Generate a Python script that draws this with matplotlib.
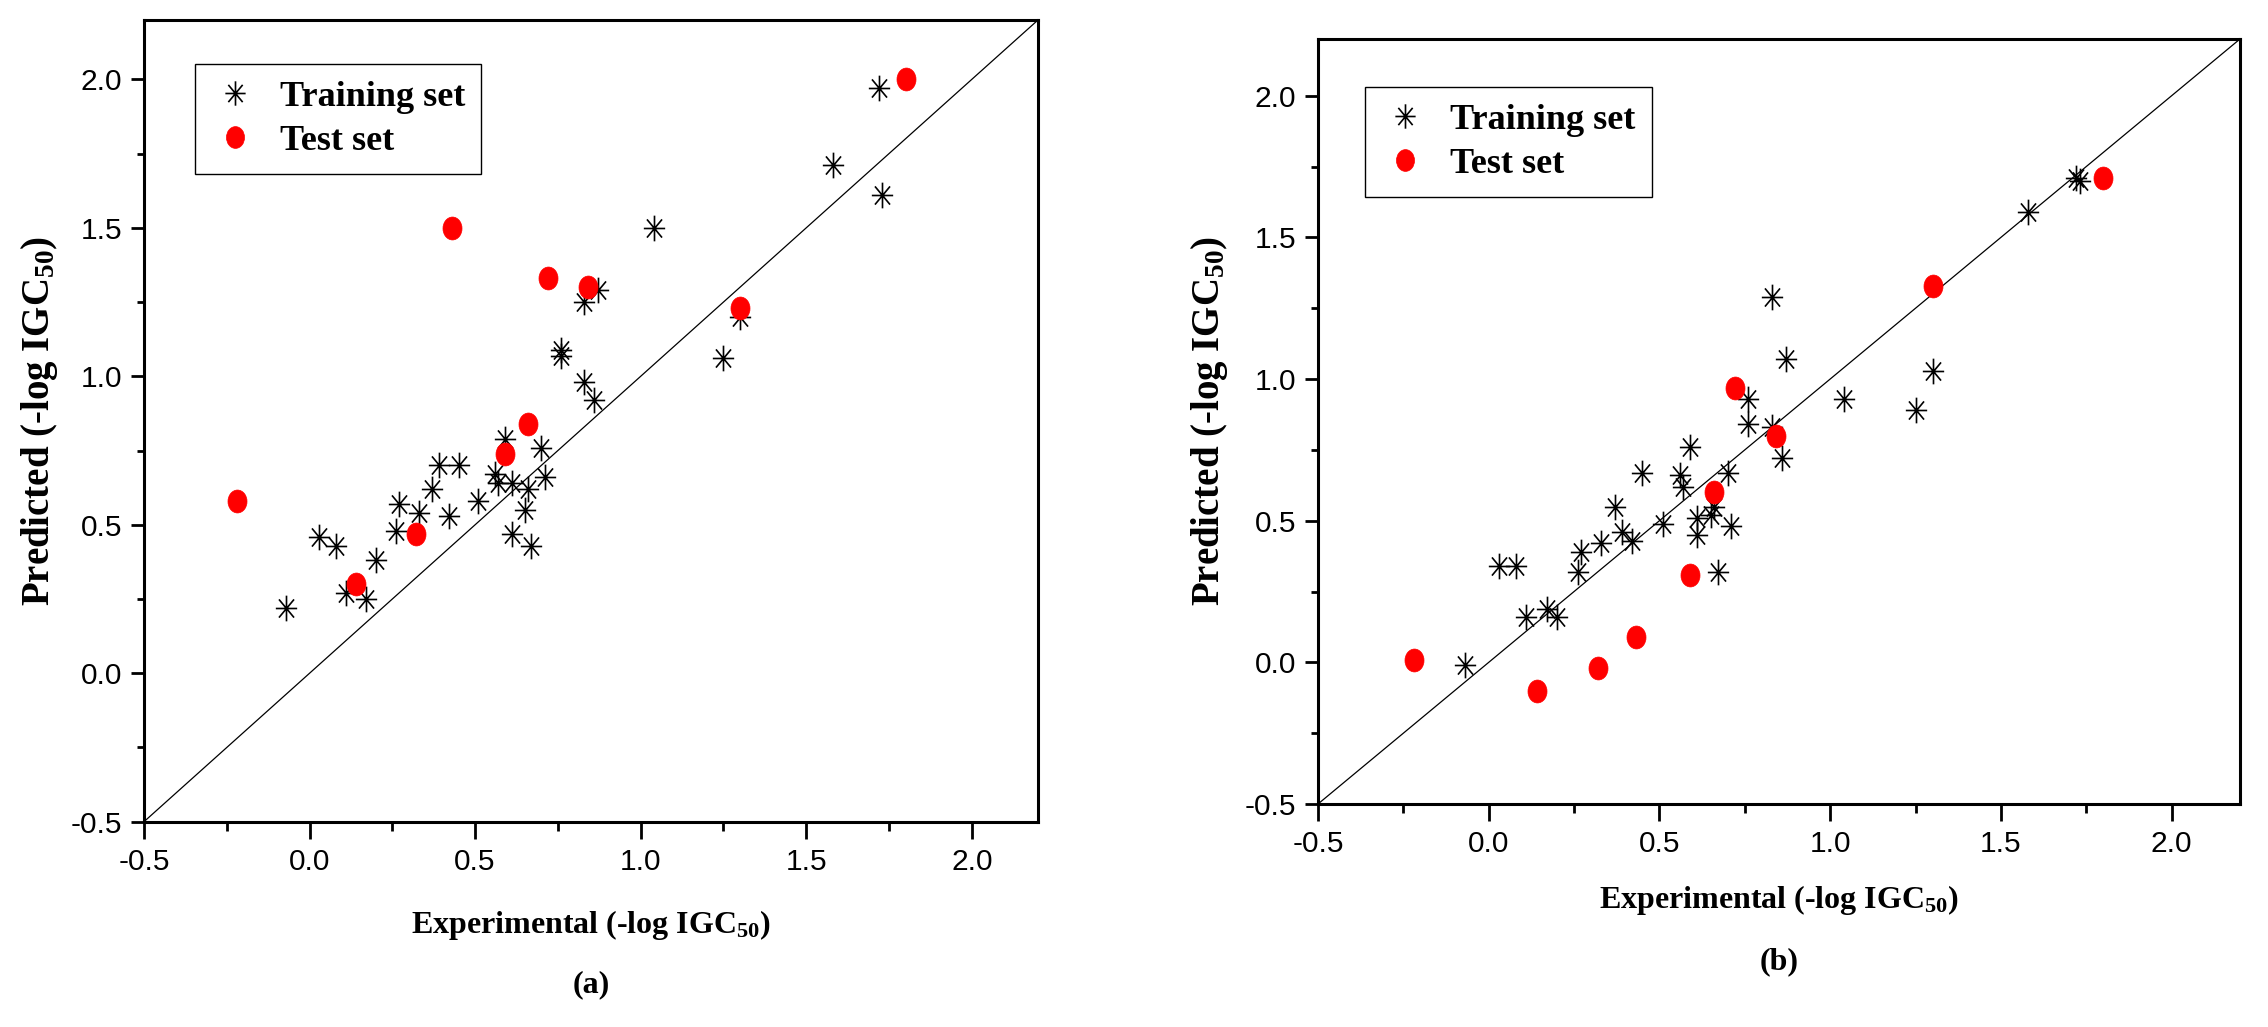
import matplotlib
matplotlib.use("Agg")
import matplotlib.pyplot as plt
from matplotlib.path import Path
from matplotlib.transforms import Affine2D
from matplotlib.ticker import MultipleLocator, FormatStrFormatter

# ---------------- data ----------------
train_a_exp = [-0.07, 0.03, 0.08, 0.11, 0.17, 0.20, 0.26, 0.27, 0.33, 0.37, 0.39, 0.42,
               0.45, 0.51, 0.56, 0.57, 0.59, 0.61, 0.61, 0.65, 0.66, 0.67, 0.70, 0.71,
               0.76, 0.76, 0.83, 0.83, 0.86, 0.87, 1.04, 1.25, 1.30, 1.58, 1.72, 1.73]
train_a_pred = [0.22, 0.46, 0.43, 0.27, 0.25, 0.38, 0.48, 0.57, 0.54, 0.62, 0.70, 0.53,
                0.70, 0.58, 0.67, 0.64, 0.79, 0.64, 0.47, 0.55, 0.62, 0.43, 0.76, 0.66,
                1.09, 1.07, 0.98, 1.25, 0.92, 1.29, 1.50, 1.06, 1.20, 1.71, 1.97, 1.61]
test_a_exp = [-0.22, 0.14, 0.32, 0.43, 0.59, 0.66, 0.72, 0.84, 1.30, 1.80]
test_a_pred = [0.58, 0.30, 0.47, 1.50, 0.74, 0.84, 1.33, 1.30, 1.23, 2.00]

train_b_exp = [-0.07, 0.03, 0.08, 0.11, 0.17, 0.20, 0.26, 0.27, 0.33, 0.37, 0.39, 0.42,
               0.45, 0.51, 0.56, 0.57, 0.59, 0.61, 0.61, 0.65, 0.66, 0.67, 0.70, 0.71,
               0.76, 0.76, 0.83, 0.83, 0.86, 0.87, 1.04, 1.25, 1.30, 1.58, 1.72, 1.73]
train_b_pred = [-0.01, 0.34, 0.34, 0.16, 0.19, 0.16, 0.32, 0.39, 0.42, 0.55, 0.46, 0.43,
                0.67, 0.49, 0.66, 0.62, 0.76, 0.51, 0.45, 0.52, 0.55, 0.32, 0.67, 0.48,
                0.93, 0.84, 0.83, 1.29, 0.72, 1.07, 0.93, 0.89, 1.03, 1.59, 1.71, 1.70]
test_b_exp = [-0.22, 0.14, 0.32, 0.43, 0.59, 0.66, 0.72, 0.84, 1.30, 1.80]
test_b_pred = [0.01, -0.10, -0.02, 0.09, 0.31, 0.60, 0.97, 0.80, 1.33, 1.71]

axis_limits = [-0.5, 2.2]
tick_values = [-0.5, 0.0, 0.5, 1.0, 1.5, 2.0]
legend_labels = ["Training set", "Test set"]
xlabel_text = "Experimental (-log IGC$_{50}$)"
ylabel_text = "Predicted (-log IGC$_{50}$)"
panel_tags = ["(a)", "(b)"]

# ---------------- style ----------------
plt.rcParams["axes.unicode_minus"] = False
plt.rcParams["mathtext.fontset"] = "custom"
plt.rcParams["mathtext.rm"] = "Liberation Serif:bold"
plt.rcParams["mathtext.it"] = "Liberation Serif:bold"
plt.rcParams["mathtext.bf"] = "Liberation Serif:bold"
plt.rcParams["mathtext.default"] = "rm"

SERIF = ["Liberation Serif", "DejaVu Serif"]
TICKFONT = ["Liberation Sans Narrow", "Liberation Sans", "DejaVu Sans"]

sq = 0.83  # horizontal squeeze of the original figure
ellipse = Path.unit_circle().transformed(Affine2D().scale(sq, 1.0))
d = 0.707
star = Path([(0, -1), (0, 1), (-sq, 0), (sq, 0),
             (-d * sq, -d), (d * sq, d), (-d * sq, d), (d * sq, -d)],
            [Path.MOVETO, Path.LINETO] * 4)

W, H = 2268, 1027
fig = plt.figure(figsize=(W / 100, H / 100), dpi=100)

panels = [
    dict(rect=[144 / W, (H - 821.7) / H, 894 / W, 801.7 / H],
         tr=(train_a_exp, train_a_pred), te=(test_a_exp, test_a_pred),
         leg=(0.057, 0.945), ylab_x=40, xlab_y=925, tag_y=985, tag=panel_tags[0]),
    dict(rect=[1318 / W, (H - 804) / H, 922 / W, 765 / H],
         tr=(train_b_exp, train_b_pred), te=(test_b_exp, test_b_pred),
         leg=(0.051, 0.937), ylab_x=1209, xlab_y=900, tag_y=962, tag=panel_tags[1]),
]

for p in panels:
    ax = fig.add_axes(p["rect"])
    ax.plot(axis_limits, axis_limits, color="black", lw=0.9, zorder=1)
    ax.plot(p["tr"][0], p["tr"][1], linestyle="none", marker=star, ms=18.5,
            mew=1.2, color="black", mfc="none", label=legend_labels[0], zorder=2)
    ax.plot(p["te"][0], p["te"][1], linestyle="none", marker=ellipse, ms=16.5,
            color="red", mec="red", mew=0.5, label=legend_labels[1], zorder=3)
    ax.set_xlim(axis_limits)
    ax.set_ylim(axis_limits)
    for axis in (ax.xaxis, ax.yaxis):
        axis.set_major_locator(MultipleLocator(0.5))
        axis.set_minor_locator(MultipleLocator(0.25))
        axis.set_major_formatter(FormatStrFormatter("%.1f"))
    ax.set_xticks(tick_values)
    ax.set_yticks(tick_values)
    ax.tick_params(axis="x", which="major", direction="out", length=12, width=2.0, pad=7,
                   top=False)
    ax.tick_params(axis="x", which="minor", direction="out", length=6.5, width=2.0, top=False)
    ax.tick_params(axis="y", which="major", direction="out", length=9.5, width=2.0, pad=6,
                   right=False)
    ax.tick_params(axis="y", which="minor", direction="out", length=5, width=2.0, right=False)
    for lab in ax.get_xticklabels() + ax.get_yticklabels():
        lab.set_fontfamily(TICKFONT)
        lab.set_fontsize(21.5)
    for s in ax.spines.values():
        s.set_linewidth(2.2)
    leg = ax.legend(loc="upper left", bbox_to_anchor=p["leg"], borderaxespad=0,
                    prop=dict(family=SERIF, weight="bold", size=26),
                    frameon=True, fancybox=False, edgecolor="black", framealpha=1,
                    borderpad=0.45, labelspacing=0.3, handlelength=1.3,
                    handletextpad=0.6, markerscale=0.95)
    leg.get_frame().set_linewidth(1.0)

    x0, y0, w, h = p["rect"]
    fig.text(x0 + w / 2, 1 - p["xlab_y"] / H, xlabel_text, ha="center", va="center",
             fontsize=23, fontweight="bold", family=SERIF)
    fig.text(x0 + w / 2, 1 - p["tag_y"] / H, p["tag"], ha="center", va="center",
             fontsize=23, fontweight="bold", family=SERIF)
    fig.text(p["ylab_x"] / W, y0 + h / 2, ylabel_text, ha="center", va="center",
             rotation=90, fontsize=28, fontweight="bold", family=SERIF)

fig.savefig("out.png", dpi=100)
